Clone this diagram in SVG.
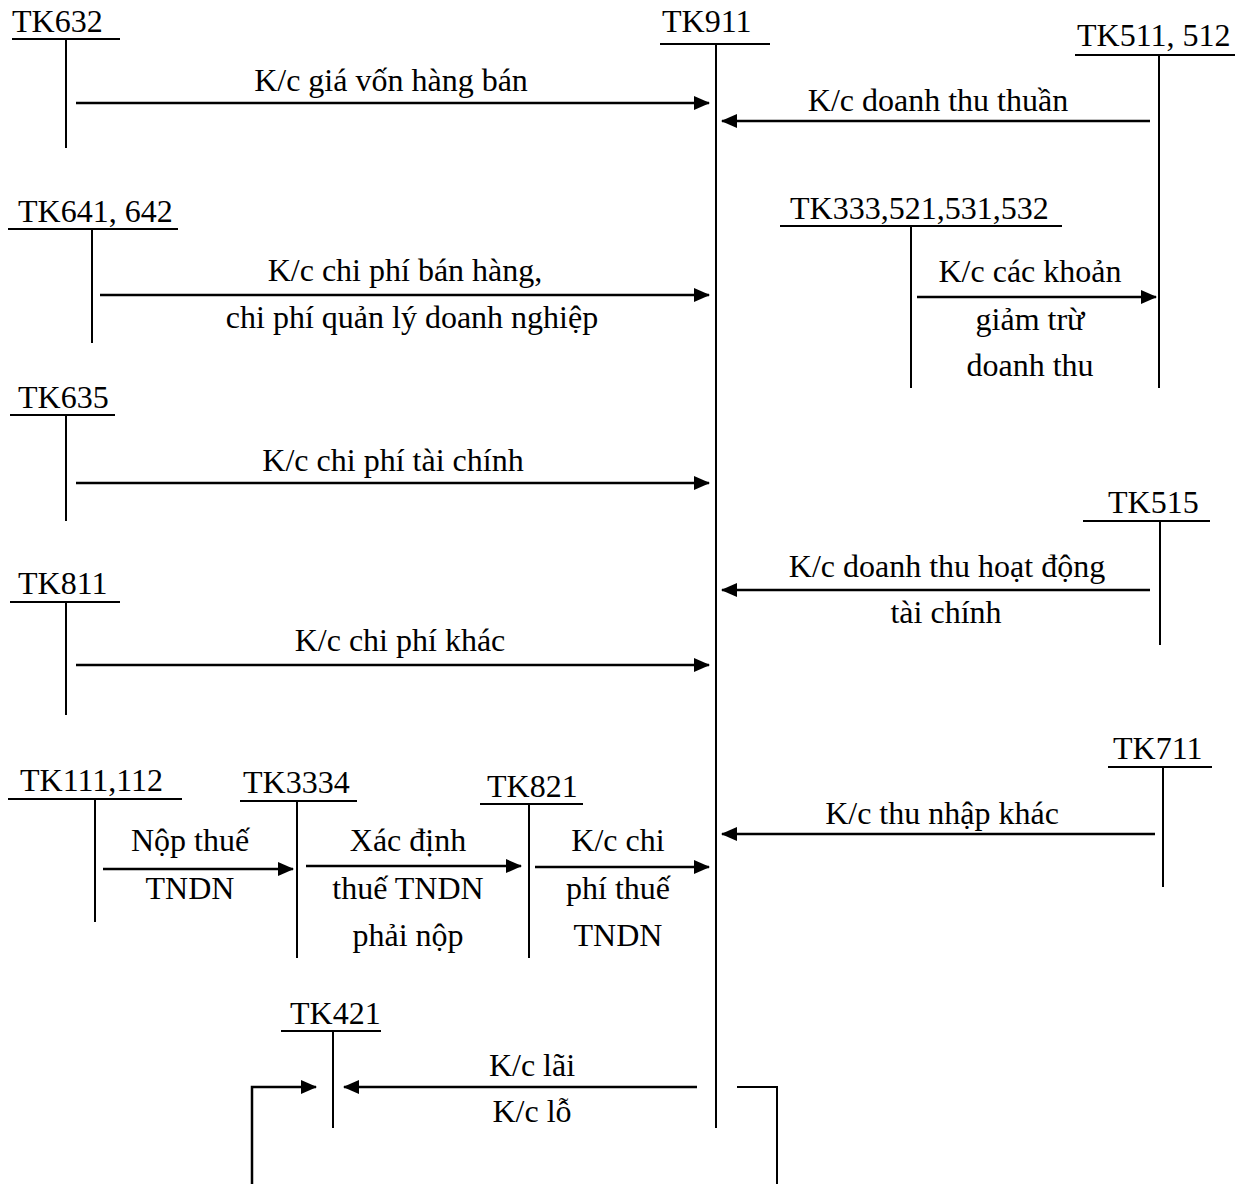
<svg xmlns="http://www.w3.org/2000/svg" width="1250" height="1184" viewBox="0 0 1250 1184">
<style>
text{font-family:"Liberation Serif","Times New Roman",serif;font-size:32px;fill:#000}
.m{text-anchor:middle}
.t{stroke:#000;stroke-width:2;fill:none}
.a{stroke:#000;stroke-width:2.5;fill:none;marker-end:url(#ah)}
</style>
<defs>
<marker id="ah" markerUnits="userSpaceOnUse" markerWidth="16" markerHeight="14" refX="15" refY="7" orient="auto">
<path d="M0,0 L16,7 L0,14 Z" fill="#000"/>
</marker>
</defs>
<rect width="1250" height="1184" fill="#fff"/>
<g id="tk632"><text x="12" y="32">TK632</text><path class="t" d="M12,39H120M66,39V148"/></g>
<g id="tk911"><text x="662" y="32">TK911</text><path class="t" d="M660,44H770M716,44V1128"/></g>
<g id="tk511"><text x="1077" y="46">TK511, 512</text><path class="t" d="M1075,55H1235M1159,55V388"/></g>
<g id="tk641"><text x="18" y="222">TK641, 642</text><path class="t" d="M8,229H178M92,229V343"/></g>
<g id="tk333"><text x="790" y="219">TK333,521,531,532</text><path class="t" d="M780,226H1062M911,226V388"/></g>
<g id="tk635"><text x="18" y="408">TK635</text><path class="t" d="M10,415H115M66,415V521"/></g>
<g id="tk515"><text x="1108" y="513">TK515</text><path class="t" d="M1083,521H1210M1160,521V645"/></g>
<g id="tk811"><text x="18" y="594">TK811</text><path class="t" d="M10,602H120M66,602V715"/></g>
<g id="tk711"><text x="1113" y="759">TK711</text><path class="t" d="M1108,767H1212M1163,767V887"/></g>
<g id="tk111"><text x="20" y="791">TK111,112</text><path class="t" d="M8,799H182M95,799V922"/></g>
<g id="tk3334"><text x="243" y="793">TK3334</text><path class="t" d="M240,801H357M297,801V958"/></g>
<g id="tk821"><text x="487" y="797">TK821</text><path class="t" d="M480,804H583M529,804V958"/></g>
<g id="tk421"><text x="290" y="1024">TK421</text><path class="t" d="M281,1031H381M333,1031V1128"/></g>
<g id="connectors">
<line class="a" x1="76" y1="103" x2="709" y2="103"/>
<line class="a" x1="1150" y1="121" x2="722" y2="121"/>
<line class="a" x1="100" y1="295" x2="709" y2="295"/>
<line class="a" x1="917" y1="297" x2="1156" y2="297"/>
<line class="a" x1="76" y1="483" x2="709" y2="483"/>
<line class="a" x1="1150" y1="590" x2="722" y2="590"/>
<line class="a" x1="76" y1="665" x2="709" y2="665"/>
<line class="a" x1="1155" y1="834" x2="722" y2="834"/>
<line class="a" x1="103" y1="869" x2="293" y2="869"/>
<line class="a" x1="306" y1="866" x2="521" y2="866"/>
<line class="a" x1="535" y1="867" x2="709" y2="867"/>
<line class="a" x1="697" y1="1087" x2="344" y2="1087"/>
<path class="a" d="M252,1184V1087H316"/>
<path class="t" d="M737,1087H777V1184"/>
</g>
<g id="labels">
<text class="m" x="391" y="91">K/c giá vốn hàng bán</text>
<text class="m" x="938" y="111">K/c doanh thu thuần</text>
<text class="m" x="405" y="281">K/c chi phí bán hàng,</text>
<text class="m" x="412" y="328">chi phí quản lý doanh nghiệp</text>
<text class="m" x="1030" y="282">K/c các khoản</text>
<text class="m" x="1030" y="330">giảm trừ</text>
<text class="m" x="1030" y="376">doanh thu</text>
<text class="m" x="393" y="471">K/c chi phí tài chính</text>
<text class="m" x="947" y="577">K/c doanh thu hoạt động</text>
<text class="m" x="946" y="623">tài chính</text>
<text class="m" x="400" y="651">K/c chi phí khác</text>
<text class="m" x="942" y="824">K/c thu nhập khác</text>
<text class="m" x="190" y="851">Nộp thuế</text>
<text class="m" x="190" y="899">TNDN</text>
<text class="m" x="408" y="851">Xác định</text>
<text class="m" x="408" y="899">thuế TNDN</text>
<text class="m" x="408" y="946">phải nộp</text>
<text class="m" x="618" y="851">K/c chi</text>
<text class="m" x="618" y="899">phí thuế</text>
<text class="m" x="618" y="946">TNDN</text>
<text class="m" x="532" y="1076">K/c lãi</text>
<text class="m" x="532" y="1122">K/c lỗ</text>
</g>
</svg>
